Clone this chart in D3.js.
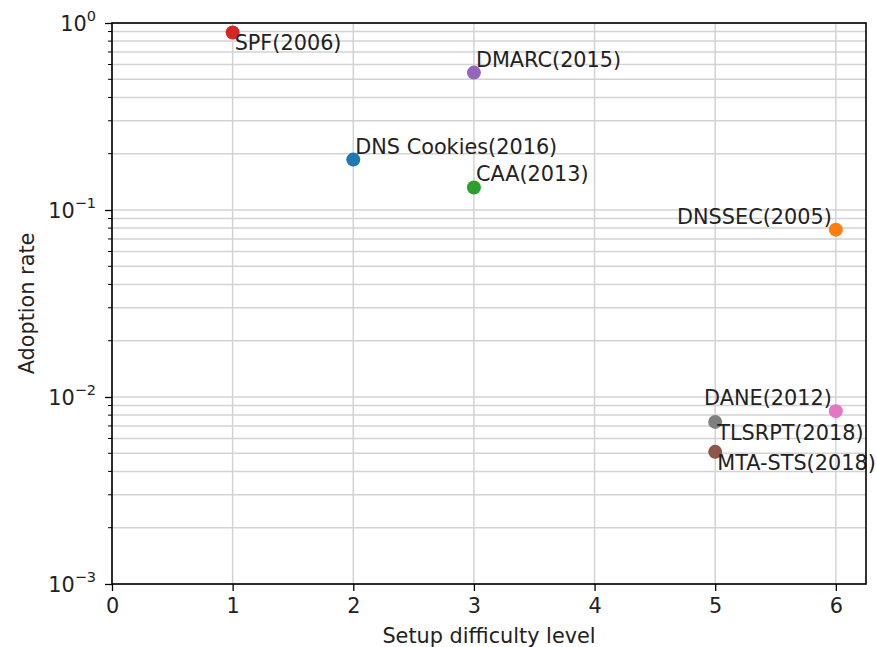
<!DOCTYPE html>
<html>
<head>
<meta charset="utf-8">
<script src="https://d3js.org/d3.v7.min.js"></script>
<style>
  body { margin: 0; background: #fff; }
  text { font-family: "DejaVu Sans", sans-serif; fill: #222; }
</style>
</head>
<body>
<svg id="chart-area"></svg>
<script>
// data
const names = ["DNS Cookies(2016)", "DNSSEC(2005)", "CAA(2013)", "SPF(2006)", "DMARC(2015)",
               "MTA-STS(2018)", "DANE(2012)", "TLSRPT(2018)"]
const difficulty = [2, 6, 3, 1, 3, 5, 6, 5]
const adoption = [0.186, 0.0785, 0.132, 0.89, 0.543, 0.00509, 0.0084, 0.00736]
// where each label sits relative to its dot
const placement = ["ur", "ul", "ur", "lr", "ur", "lr", "ul", "lr"]
const xTicks = [0, 1, 2, 3, 4, 5, 6]
const yTicks = [1e-3, 1e-2, 1e-1, 1]

const colors = d3.schemeCategory10
const fontSize = "20.8px"

const svgWidth = 877
const svgHeight = 647
const margin = { left: 112, right: 11, top: 23, bottom: 63 }
const chartWidth = svgWidth - margin.left - margin.right
const chartHeight = svgHeight - margin.top - margin.bottom

const svg = d3.select("#chart-area")
  .attr("width", svgWidth)
  .attr("height", svgHeight)

const chart = svg.append("g")
  .attr("transform", `translate(${margin.left},${margin.top})`)

const xScale = d3.scaleLinear()
  .domain([0, 6.25])
  .range([0, chartWidth])

const yScale = d3.scaleLog()
  .domain([1e-3, 1])
  .range([chartHeight, 0])

// minor ticks 2..9 for each decade
const minorTicks = []
for (let e = -3; e < 0; e++) {
  for (let m = 2; m <= 9; m++) minorTicks.push(m * Math.pow(10, e))
}

// grid
const grid = chart.append("g")
grid.selectAll(".hgrid")
  .data(yTicks.concat(minorTicks))
  .enter().append("line")
  .attr("x1", 0).attr("x2", chartWidth)
  .attr("y1", d => yScale(d)).attr("y2", d => yScale(d))
  .attr("stroke", "#d3d3d3").attr("stroke-width", 1.5)
grid.selectAll(".vgrid")
  .data(xTicks)
  .enter().append("line")
  .attr("y1", 0).attr("y2", chartHeight)
  .attr("x1", d => xScale(d)).attr("x2", d => xScale(d))
  .attr("stroke", "#d3d3d3").attr("stroke-width", 1.5)

// points
chart.selectAll("circle")
  .data(names)
  .enter().append("circle")
  .attr("cx", (d, i) => xScale(difficulty[i]))
  .attr("cy", (d, i) => yScale(adoption[i]))
  .attr("r", 7)
  .attr("fill", (d, i) => colors[i])

// labels
chart.selectAll(".lbl")
  .data(names)
  .enter().append("text")
  .attr("class", "lbl")
  .attr("x", (d, i) => xScale(difficulty[i]) + (placement[i][1] == "r" ? 2 : -4))
  .attr("y", (d, i) => yScale(adoption[i]) + (placement[i][0] == "u" ? -6 : 18))
  .attr("text-anchor", (d, i) => placement[i][1] == "r" ? "start" : "end")
  .style("font-size", fontSize)
  .text(d => d)

// axes
const xAxis = chart.append("g")
  .attr("transform", `translate(0,${chartHeight})`)
  .call(d3.axisBottom(xScale).tickValues(xTicks).tickFormat(d3.format("d")).tickSize(7).tickPadding(7))
xAxis.selectAll("text").style("font-size", fontSize).style("font-family", "DejaVu Sans").attr("fill", "#222")

const yAxis = chart.append("g")
  .call(d3.axisLeft(yScale).tickValues(yTicks).tickFormat("").tickSize(7))
yAxis.selectAll(".minor")
  .data(minorTicks)
  .enter().append("line")
  .attr("x1", -4).attr("x2", 0)
  .attr("y1", d => yScale(d)).attr("y2", d => yScale(d))
  .attr("stroke", "#000").attr("stroke-width", 1)

yAxis.selectAll(".ylab")
  .data(yTicks)
  .enter().append("text")
  .attr("x", -16)
  .attr("y", d => yScale(d) + 8)
  .attr("text-anchor", "end")
  .style("font-size", fontSize)
  .call(t => t.append("tspan").text("10"))
  .call(t => t.append("tspan")
    .attr("dy", -10)
    .style("font-size", "14.5px")
    .text(d => Math.round(Math.log10(d)) == 0 ? "0" : "\u2212" + (-Math.round(Math.log10(d)))))

chart.selectAll(".domain").remove()
chart.selectAll(".tick line").attr("stroke", "#000").attr("stroke-width", 1.3)

// frame
chart.append("rect")
  .attr("width", chartWidth).attr("height", chartHeight)
  .attr("fill", "none").attr("stroke", "#000").attr("stroke-width", 1.6)

// axis titles
chart.append("text")
  .attr("x", chartWidth / 2)
  .attr("y", chartHeight + 59)
  .attr("text-anchor", "middle")
  .style("font-size", fontSize)
  .text("Setup difficulty level")

chart.append("text")
  .attr("transform", `rotate(-90)`)
  .attr("x", -chartHeight / 2)
  .attr("y", -78)
  .attr("text-anchor", "middle")
  .style("font-size", fontSize)
  .text("Adoption rate")
</script>
</body>
</html>
